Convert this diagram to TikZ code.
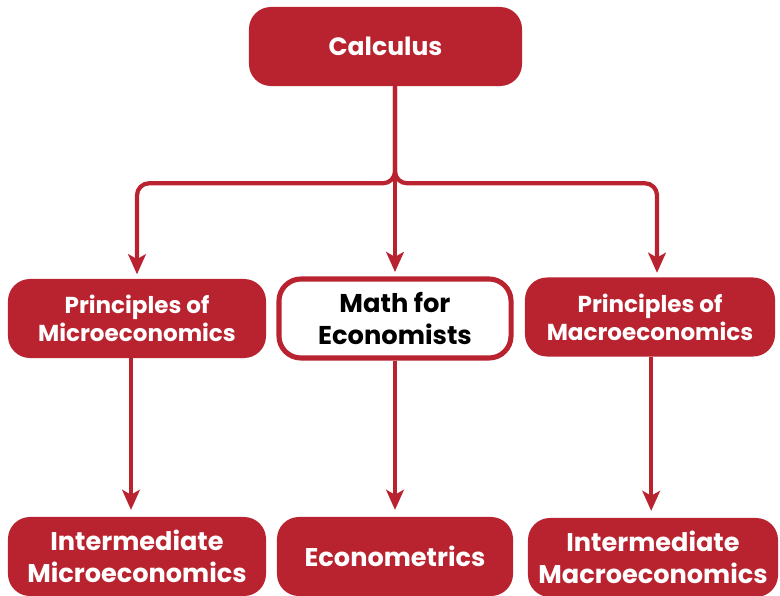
\documentclass[tikz,border=0pt]{standalone}
\usepackage{fontspec}
\setmainfont{Poppins}
\usetikzlibrary{positioning, arrows.meta}
\definecolor{econred}{RGB}{184,35,47}

\begin{document}
\begin{tikzpicture}[
	x=0.025cm, y=-0.025cm,
	>={Stealth[length=5mm, width=4.4mm, inset=1.2mm]},
	% Define styles
	course/.style={rectangle, fill=econred, text=white, rounded corners=0.55cm, minimum height=1.975cm, align=center, font=\fontsize{16.4}{20}\selectfont\bfseries},
	lower/.style={course, font=\fontsize{18.2}{22.5}\selectfont\bfseries},
	core/.style={course, fill=white, draw=econred, line width=3.6pt, text=black, font=\fontsize{18.3}{22.5}\selectfont\bfseries},
	arrow/.style={->, econred, line width=3pt, rounded corners=0.3cm, shorten >=1.1mm}
	]
	\useasboundingbox (0,0) rectangle (780,596);
	
	% 1. Starting course
	\node[course, minimum width=6.825cm, font=\fontsize{17.8}{20}\selectfont\bfseries] (calc) at (385.5,46.5) {Calculus};
	
	% 2. Second level
	\node[course, minimum width=6.45cm] (micro) at (137,318.5) {Principles of\\Microeconomics};
	\node[core, minimum width=5.8cm] (math) at (395,318.5) {Math for\\Economists};
	\node[course, minimum width=6.25cm] (macro) at (650,317) {Principles of\\Macroeconomics};
	
	% 3. Third level
	\node[lower, minimum width=6.45cm] (imicro) at (137,556.5) {Intermediate\\Microeconomics};
	\node[lower, minimum width=5.9cm] (metrics) at (395,556.5) {Econometrics};
	\node[lower, minimum width=6.25cm] (imacro) at (653,557.5) {Intermediate\\Macroeconomics};
	
	% Branches from the top
	\draw[arrow] (calc.south -| math.north) -- ++(0,97) -| (micro.north);
	\draw[arrow] (calc.south -| math.north) -- ++(0,97) -| ([xshift=0.175cm]macro.north);
	\draw[arrow] (calc.south -| math.north) -- (math.north);
	
	% Straight down to the next course
	\draw[arrow, shorten >=1.7mm] ([xshift=-0.15cm]micro.south) -- ([xshift=-0.15cm]imicro.north);
	\draw[arrow, shorten >=1.7mm] (math.south) -- (metrics.north);
	\draw[arrow, shorten >=1.7mm] ([xshift=0.03cm]macro.south) -- ([xshift=0.03cm]macro.south |- imacro.north);
\end{tikzpicture}
\end{document}
